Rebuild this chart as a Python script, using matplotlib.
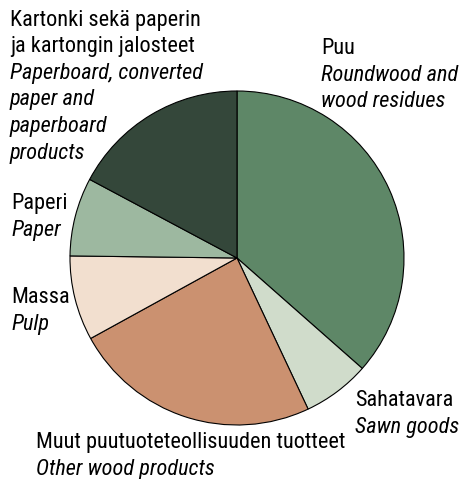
import matplotlib.pyplot as plt

names = ["Puu", "Sahatavara", "Muut", "Massa", "Paperi", "Kartonki"]
shares = [36.5, 6.5, 24.0, 8.2, 7.6, 17.2]
colors = ["#5e8767", "#d0dccb", "#cb9170", "#f2dfcf", "#9db8a0", "#34473a"]

# label blocks: finnish lines (regular) + english lines (italic)
labels_fi = [
    ["Puu"],
    ["Sahatavara"],
    ["Muut puutuoteteollisuuden tuotteet"],
    ["Massa"],
    ["Paperi"],
    ["Kartonki sekä paperin", "ja kartongin jalosteet"],
]
labels_en = [
    ["Roundwood and", "wood residues"],
    ["Sawn goods"],
    ["Other wood products"],
    ["Pulp"],
    ["Paper"],
    ["Paperboard, converted", "paper and", "paperboard", "products"],
]

fam = ["Roboto Condensed", "DejaVu Sans"]

W, H = 471, 479
fig = plt.figure(figsize=(W / 100, H / 100), dpi=100)
ax = fig.add_axes([0, 0, 1, 1])

ax.pie(shares, colors=colors, startangle=90, counterclock=False,
       center=(237, H - 258), radius=167, frame=True,
       wedgeprops=dict(edgecolor="black", linewidth=0.8))
ax.set_xlim(0, W)
ax.set_ylim(0, H)
ax.set_aspect("equal")
ax.axis("off")

# left x and first baseline (pixels from top) of each label block
pos = [(321, 54), (355, 406), (36, 448), (11, 303), (11, 209), (10, 25.5)]
fs = 16
step = 26.6
for (x, y), fi, en in zip(pos, labels_fi, labels_en):
    k = 0
    for line in fi:
        ax.text(x, H - y - k * step, line, fontsize=fs, family=fam,
                va="baseline", ha="left")
        k += 1
    for line in en:
        ax.text(x, H - y - k * step, line, fontsize=fs, family=fam, style="italic",
                va="baseline", ha="left")
        k += 1

fig.savefig("out.png", dpi=100)
